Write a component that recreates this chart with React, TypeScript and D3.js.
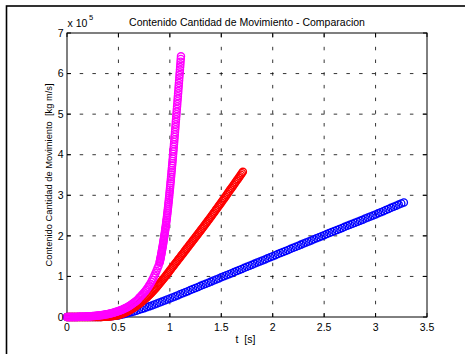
import React from 'react';
import * as d3 from 'd3';

// ---- text ----
const titleText = 'Contenido Cantidad de Movimiento - Comparacion';
const xLabelText = 't  [s]';
const yLabelText = 'Contenido Cantidad de Movimiento  [kg m/s]';
const yMultiplierBase = 'x 10';
const yMultiplierExp = '5';

// ---- ticks ----
const xTicks = [0, 0.5, 1, 1.5, 2, 2.5, 3, 3.5];
const xTickLabels = ['0', '0.5', '1', '1.5', '2', '2.5', '3', '3.5'];
const yTicks = [0, 1, 2, 3, 4, 5, 6, 7];
const yTickLabels = ['0', '1', '2', '3', '4', '5', '6', '7'];

// ---- series (values in units of 1e5 kg m/s), sampled at start + i*step seconds ----
const blueStart = 0;
const blueStep = 0.025;
const blueValues = [
  0, 0, 0, 0, 0, 0, 0, 0, 0, 0, 0,
  0, 0.001, 0.002, 0.004, 0.007, 0.011, 0.016, 0.022, 0.03, 0.04,
  0.054, 0.069, 0.085, 0.102, 0.119, 0.137, 0.156, 0.176, 0.197, 0.218,
  0.24, 0.262, 0.285, 0.308, 0.332, 0.356, 0.38, 0.405, 0.43, 0.455,
  0.481, 0.507, 0.533, 0.559, 0.585, 0.611, 0.637, 0.664, 0.69, 0.716,
  0.742, 0.768, 0.794, 0.82, 0.846, 0.872, 0.898, 0.924, 0.95, 0.977,
  1.003, 1.029, 1.055, 1.081, 1.107, 1.133, 1.159, 1.185, 1.211, 1.237,
  1.263, 1.29, 1.316, 1.342, 1.368, 1.394, 1.42, 1.446, 1.472, 1.498,
  1.524, 1.55, 1.576, 1.602, 1.628, 1.654, 1.68, 1.706, 1.732, 1.758,
  1.784, 1.81, 1.836, 1.862, 1.888, 1.914, 1.94, 1.966, 1.992, 2.018,
  2.043, 2.069, 2.094, 2.12, 2.145, 2.171, 2.196, 2.222, 2.247, 2.273,
  2.298, 2.324, 2.349, 2.375, 2.4, 2.426, 2.451, 2.477, 2.502, 2.528,
  2.555, 2.582, 2.609, 2.636, 2.663, 2.69, 2.717, 2.744, 2.771, 2.798,
  2.825,
];

const redStart = 0;
const redStep = 0.01;
const redValues = [
  0, 0, 0, 0, 0, 0, 0, 0, 0, 0,
  0, 0, 0, 0, 0, 0, 0, 0, 0, 0,
  0, 0, 0, 0, 0, 0, 0, 0, 0, 0,
  0, 0.001, 0.001, 0.002, 0.003, 0.004, 0.005, 0.006, 0.008, 0.009,
  0.011, 0.013, 0.016, 0.019, 0.022, 0.026, 0.03, 0.035, 0.04, 0.045,
  0.051, 0.058, 0.066, 0.075, 0.085, 0.095, 0.106, 0.118, 0.13, 0.142,
  0.155, 0.169, 0.183, 0.198, 0.213, 0.229, 0.246, 0.264, 0.282, 0.301,
  0.32, 0.34, 0.36, 0.381, 0.402, 0.424, 0.447, 0.47, 0.494, 0.518,
  0.543, 0.568, 0.594, 0.621, 0.648, 0.676, 0.705, 0.734, 0.763, 0.793,
  0.823, 0.854, 0.885, 0.917, 0.949, 0.981, 1.013, 1.046, 1.079, 1.112,
  1.145, 1.178, 1.211, 1.244, 1.277, 1.31, 1.343, 1.376, 1.409, 1.442,
  1.475, 1.508, 1.541, 1.574, 1.607, 1.64, 1.673, 1.706, 1.739, 1.772,
  1.805, 1.838, 1.871, 1.904, 1.937, 1.97, 2.003, 2.036, 2.069, 2.102,
  2.135, 2.168, 2.201, 2.234, 2.268, 2.302, 2.336, 2.37, 2.404, 2.438,
  2.472, 2.507, 2.542, 2.577, 2.612, 2.647, 2.682, 2.717, 2.752, 2.787,
  2.822, 2.858, 2.894, 2.93, 2.966, 3.002, 3.038, 3.074, 3.11, 3.146,
  3.182, 3.218, 3.254, 3.29, 3.326, 3.362, 3.398, 3.434, 3.47, 3.506,
  3.542, 3.578,
];

const magentaLowStart = 0;
const magentaLowStep = 0.01;
const magentaLowValues = [
  0, 0, 0, 0.001, 0.001, 0.001, 0.001, 0.002, 0.002, 0.003,
  0.003, 0.004, 0.005, 0.005, 0.006, 0.007, 0.008, 0.009, 0.01, 0.012,
  0.013, 0.015, 0.016, 0.018, 0.02, 0.022, 0.024, 0.027, 0.029, 0.032,
  0.035, 0.038, 0.041, 0.045, 0.048, 0.052, 0.056, 0.061, 0.065, 0.07,
  0.075, 0.081, 0.087, 0.093, 0.099, 0.106, 0.113, 0.121, 0.129, 0.137,
  0.146, 0.155, 0.165, 0.175, 0.186, 0.197, 0.209, 0.222, 0.235, 0.249,
  0.264, 0.279, 0.295, 0.312, 0.33, 0.349, 0.368, 0.389, 0.41, 0.432,
  0.47, 0.495, 0.52, 0.547, 0.575, 0.605, 0.636, 0.668, 0.702, 0.738,
  0.78, 0.822, 0.867, 0.915, 0.966, 1.02, 1.077, 1.137, 1.2, 1.266,
];

const magentaHighStart = 0.9;
const magentaHighStep = 0.002;
const magentaHighValues = [
  1.335, 1.36, 1.385, 1.41, 1.435,
  1.46, 1.487, 1.514, 1.541, 1.568,
  1.595, 1.624, 1.653, 1.682, 1.711,
  1.74, 1.771, 1.802, 1.833, 1.864,
  1.895, 1.928, 1.961, 1.994, 2.027,
  2.06, 2.096, 2.132, 2.167, 2.203,
  2.239, 2.278, 2.318, 2.357, 2.397,
  2.436, 2.479, 2.522, 2.565, 2.608,
  2.651, 2.698, 2.744, 2.791, 2.837,
  2.884, 2.934, 2.984, 3.035, 3.085,
  3.135, 3.188, 3.241, 3.294, 3.347,
  3.4, 3.455, 3.51, 3.565, 3.62,
  3.675, 3.732, 3.789, 3.846, 3.903,
  3.96, 4.019, 4.078, 4.137, 4.196,
  4.255, 4.316, 4.377, 4.438, 4.499,
  4.56, 4.622, 4.685, 4.747, 4.81,
  4.872, 4.935, 4.998, 5.062, 5.125,
  5.188, 5.252, 5.316, 5.38, 5.444,
  5.508, 5.573, 5.638, 5.702, 5.767,
  5.832, 5.898, 5.963, 6.029, 6.094,
  6.16, 6.226, 6.292, 6.358, 6.424,
];

type Pt = { t: number; v: number };
const sampled = (start: number, step: number, values: number[]): Pt[] =>
  values.map((v, i) => ({ t: start + i * step, v }));

const series = [
  { name: 'blue', color: '#0000ff', points: sampled(blueStart, blueStep, blueValues) },
  { name: 'red', color: '#ff0000', points: sampled(redStart, redStep, redValues) },
  {
    name: 'magenta',
    color: '#ff00ff',
    points: [
      ...sampled(magentaLowStart, magentaLowStep, magentaLowValues),
      ...sampled(magentaHighStart, magentaHighStep, magentaHighValues),
    ],
  },
];

const W = 465;
const H = 354;
const FONT = "'Liberation Sans', Arial, Helvetica, sans-serif";

export default function App() {
  const left = 67, right = 427, top = 33, bottom = 317;
  const x = d3.scaleLinear().domain([0, 3.5]).range([left, right]);
  const y = d3.scaleLinear().domain([0, 7]).range([bottom, top]);
  const tickLen = 4;
  const dash = '3.5 9.2';
  const cx = (left + right) / 2;
  const cy = (top + bottom) / 2;

  return (
    <svg
      width={W}
      height={H}
      style={{ position: 'absolute', left: 0, top: 0, background: '#fff' }}
      fontFamily={FONT}
    >
      <rect x={0} y={0} width={W} height={H} fill="#fff" />
      {/* outer frame */}
      <rect x={6.5} y={6} width={600} height={500} fill="none" stroke="#000" strokeWidth={1.6} />

      {/* grid */}
      {xTicks.slice(1, -1).map((t) => (
        <line key={'gx' + t} x1={x(t)} x2={x(t)} y1={bottom} y2={top} stroke="#000" strokeWidth={0.8} strokeDasharray={dash} />
      ))}
      {yTicks.slice(1, -1).map((v) => (
        <line key={'gy' + v} x1={left} x2={right} y1={y(v)} y2={y(v)} stroke="#000" strokeWidth={0.8} strokeDasharray={dash} />
      ))}

      {/* ticks */}
      {xTicks.map((t) => (
        <g key={'tx' + t}>
          <line x1={x(t)} x2={x(t)} y1={bottom} y2={bottom - tickLen} stroke="#000" />
          <line x1={x(t)} x2={x(t)} y1={top} y2={top + tickLen} stroke="#000" />
        </g>
      ))}
      {yTicks.map((v) => (
        <g key={'ty' + v}>
          <line x1={left} x2={left + tickLen} y1={y(v)} y2={y(v)} stroke="#000" />
          <line x1={right} x2={right - tickLen} y1={y(v)} y2={y(v)} stroke="#000" />
        </g>
      ))}

      {/* axes box */}
      <rect x={left} y={top} width={right - left} height={bottom - top} fill="none" stroke="#000" strokeWidth={1} />

      {/* data */}
      {series.map((s) => (
        <g key={s.name}>
          {s.points.map((p, i) => (
            <circle key={i} cx={x(p.t)} cy={y(p.v)} r={3.6} fill="none" stroke={s.color} strokeWidth={1.3} />
          ))}
        </g>
      ))}

      {/* tick labels */}
      {xTicks.map((t, i) => (
        <text key={'lx' + t} x={x(t)} y={331} textAnchor="middle" fontSize={10.5} fill="#000">
          {xTickLabels[i]}
        </text>
      ))}
      {yTicks.map((v, i) => (
        <text key={'ly' + v} x={63.5} y={y(v)} dy="0.36em" textAnchor="end" fontSize={10.5} fill="#000">
          {yTickLabels[i]}
        </text>
      ))}

      {/* multiplier */}
      <text x={67.5} y={26.5} fontSize={10.5} fill="#000">
        {yMultiplierBase}
      </text>
      <text x={89} y={20} fontSize={7.5} fill="#000">
        {yMultiplierExp}
      </text>

      {/* title */}
      <text x={cx} y={26} textAnchor="middle" fontSize={10.5} fill="#000">
        {titleText}
      </text>

      {/* axis labels */}
      <text x={cx - 1.5} y={343} textAnchor="middle" fontSize={10.5} fill="#000" style={{ whiteSpace: 'pre' }}>
        {xLabelText}
      </text>
      <text
        transform={`translate(51.5, ${cy}) rotate(-90)`}
        textAnchor="middle"
        fontSize={9.3}
        fill="#000"
        style={{ whiteSpace: 'pre' }}
      >
        {yLabelText}
      </text>
    </svg>
  );
}
